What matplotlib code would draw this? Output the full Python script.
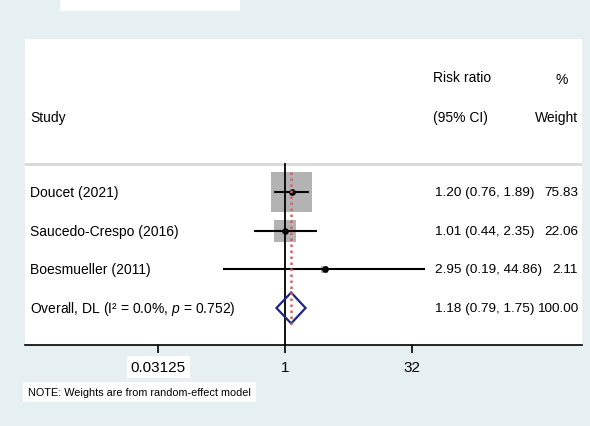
import numpy as np
import matplotlib
matplotlib.use("Agg")
import matplotlib.pyplot as plt
from matplotlib.patches import Rectangle, Polygon
from matplotlib.ticker import FixedLocator, FixedFormatter

plt.rcParams['font.family'] = ['Liberation Sans', 'DejaVu Sans']
plt.rcParams['mathtext.fontset'] = 'custom'
plt.rcParams['mathtext.rm'] = 'Liberation Sans'
plt.rcParams['mathtext.it'] = 'Liberation Sans:italic'

# data
studies = ["Doucet (2021)", "Saucedo-Crespo (2016)", "Boesmueller (2011)"]
rr = [1.20, 1.01, 2.95]
ci_lo = [0.76, 0.44, 0.19]
ci_hi = [1.89, 2.35, 44.86]
weights = [75.83, 22.06, 2.11]
overall_label = "Overall, DL (I\u00b2 = 0.0%, $\\it{p}$ = 0.752)"
overall = [1.18, 0.79, 1.75, 100.00]
xticks = [0.03125, 1, 32]
xtick_labels = ["0.03125", "1", "32"]

W, H = 590, 427
bg = "#e6eff2"

def fx(px):
    return px / W

def fy(py):
    return 1 - py / H

def axx(px):
    # pixel x -> axes fraction
    return (px - 24.5) / (581.7 - 24.5)

fig = plt.figure(figsize=(W / 100, H / 100), dpi=100, facecolor=bg)

# white strip at top
fig.patches.append(Rectangle((fx(60), fy(12)), fx(240) - fx(60), fy(0) - fy(12),
                             transform=fig.transFigure, facecolor="white",
                             edgecolor="none", zorder=0))

ax = fig.add_axes([fx(24.5), fy(346), fx(581.7) - fx(24.5), fy(40) - fy(346)])
ax.set_facecolor("white")
ax.set_xscale("log", base=2)
ax.set_xlim(2 ** -10.27, 2 ** 11.69)
ax.set_ylim(4.957, -2.957)
for s in ["top", "left", "right"]:
    ax.spines[s].set_visible(False)
ax.spines["bottom"].set_linewidth(1.2)
ax.set_yticks([])
ax.xaxis.set_major_locator(FixedLocator(xticks))
ax.xaxis.set_major_formatter(FixedFormatter(xtick_labels))
ax.xaxis.set_minor_locator(FixedLocator([]))
ax.tick_params(axis="x", length=6, width=1.2, pad=5, labelsize=11)
lbl = ax.get_xticklabels()[0]
lbl.set_bbox(dict(facecolor="white", edgecolor="none", pad=3))

ypos = np.arange(1, len(studies) + 1)

# header separator
ax.axhline(0.276, color="#d8d8d8", lw=2, zorder=1)
# null line
ax.plot([1, 1], [0.276, 4.957], color="black", lw=1.3, zorder=3)

# weight boxes
ax.scatter(rr, ypos, marker="s", s=[29.5 ** 2 * w / weights[0] for w in weights],
           color="#b3b3b3", edgecolor="none", zorder=2)
# CIs
for y, l, h in zip(ypos, ci_lo, ci_hi):
    ax.plot([l, h], [y, y], color="black", lw=1.5, zorder=4)
ax.plot(rr, ypos, "o", color="black", ms=3.8, zorder=5)

# overall diamond
yo = len(studies) + 1
dh = 0.40
diamond = Polygon([(overall[1], yo), (overall[0], yo - dh), (overall[2], yo), (overall[0], yo + dh)],
                  closed=True, facecolor="none", edgecolor="#1c2787", lw=1.6, zorder=5)
ax.add_patch(diamond)
ax.plot([overall[0], overall[0]], [0.48, 4.47], color="#c8686a", lw=1.8,
        linestyle=(0, (1.0, 1.4)), zorder=6)

# text columns
tr = ax.get_yaxis_transform()
hdr = dict(transform=tr, fontsize=10, va="center")
num = dict(transform=tr, fontsize=9.7, va="center")
ax.text(axx(433), -1.97, "Risk ratio", ha="left", **hdr)
ax.text(axx(568), -1.92, "%", ha="right", **hdr)
ax.text(axx(30), -0.94, "Study", ha="left", **hdr)
ax.text(axx(433), -0.94, "(95% CI)", ha="left", **hdr)
ax.text(axx(578), -0.94, "Weight", ha="right", **hdr)

for y, name, r, l, h, w in zip(ypos, studies, rr, ci_lo, ci_hi, weights):
    ax.text(axx(30), y, name, ha="left", **hdr)
    ax.text(axx(435), y, f"{r:.2f} ({l:.2f}, {h:.2f})", ha="left", **num)
    ax.text(axx(578), y, f"{w:.2f}", ha="right", **num)

ax.text(axx(30), yo, overall_label, ha="left", **hdr)
ax.text(axx(435), yo, f"{overall[0]:.2f} ({overall[1]:.2f}, {overall[2]:.2f})", ha="left", **num)
ax.text(axx(578), yo, f"{overall[3]:.2f}", ha="right", **num)

fig.text(fx(28), fy(393), "NOTE: Weights are from random-effect model", fontsize=7.8,
         va="center", ha="left",
         bbox=dict(facecolor="white", edgecolor="none", pad=3.5))

fig.savefig("out.png", dpi=100, facecolor=bg)
